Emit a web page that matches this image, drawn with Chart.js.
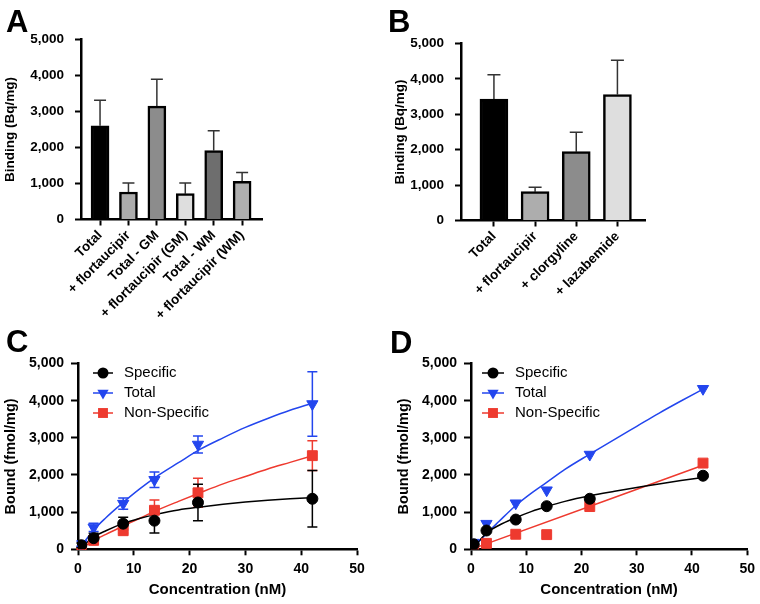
<!DOCTYPE html>
<html lang="en">
<head>
<meta charset="UTF-8">
<title>Flortaucipir binding</title>
<script src="https://cdn.jsdelivr.net/npm/chart.js@4.4.1/dist/chart.umd.min.js"></script>
<style>
  html, body { margin: 0; padding: 0; background: #fff; }
  #figure { position: relative; width: 760px; height: 604px; overflow: hidden; }
  .panel { position: absolute; }
</style>
</head>
<body>
<div id="figure">
  <canvas id="panelA" class="panel" width="380" height="330" style="left:0;top:0"></canvas>
  <canvas id="panelB" class="panel" width="380" height="330" style="left:380px;top:0"></canvas>
  <canvas id="panelC" class="panel" width="380" height="284" style="left:0;top:320px"></canvas>
  <canvas id="panelD" class="panel" width="380" height="284" style="left:380px;top:320px"></canvas>
</div>
<script>
// ---- data ----
const groupsA = ['Total', '+ flortaucipir', 'Total - GM', '+ flortaucipir (GM)', 'Total - WM', '+ flortaucipir (WM)'];
const bindingA = [2605, 765, 3150, 718, 1915, 1058];
const bindingErrA = [710, 250, 745, 295, 550, 250];

const groupsB = ['Total', '+ flortaucipir', '+ clorgyline', '+ lazabemide'];
const bindingB = [3430, 815, 1945, 3560];
const bindingErrB = [685, 125, 545, 965];

const yTicks = [0, 1000, 2000, 3000, 4000, 5000];
const xTicksConc = [0, 10, 20, 30, 40, 50];

// panel C: mean ± error
const concC = [0.6, 2.8, 8.1, 13.7, 21.5, 42];
const specificC = [110, 300, 690, 770, 1260, 1360];
const specificErrC = [60, 130, 170, 330, 490, 760];
const totalC = [150, 590, 1230, 1870, 2820, 3910];
const totalErrC = [70, 110, 150, 210, 230, 870];
const nonSpecificC = [10, 240, 500, 1050, 1520, 2520];
const nonSpecificErrC = [30, 80, 60, 280, 390, 400];
// panel C fitted curves, read at these concentrations
const fitConcC = [0.6, 2.8, 5, 8, 11, 14, 18, 22, 26, 30, 34, 38, 42];
const specificFitC = [60, 330, 500, 690, 830, 940, 1060, 1140, 1210, 1270, 1320, 1360, 1390];
const totalFitC = [90, 520, 850, 1250, 1620, 1950, 2330, 2700, 3000, 3280, 3520, 3740, 3930];
const nonSpecificFitC = [30, 240, 400, 620, 830, 1040, 1290, 1530, 1760, 1960, 2160, 2340, 2520];

// panel D: single experiment
const concD = [0.5, 2.8, 8.1, 13.7, 21.5, 42];
const specificD = [135, 505, 800, 1160, 1360, 1980];
const totalD = [180, 690, 1240, 1590, 2550, 4320];
const nonSpecificD = [0, 160, 405, 395, 1150, 2320];
const fitConcD = [0.5, 2.8, 5, 8.1, 11, 13.7, 17, 21.5, 26, 30, 34, 38, 42];
const specificFitD = [50, 440, 640, 850, 1020, 1150, 1290, 1440, 1560, 1660, 1760, 1850, 1930];
const totalFitD = [60, 420, 740, 1180, 1520, 1800, 2150, 2560, 2960, 3310, 3660, 3990, 4310];
const nonSpecificLineConcD = [0.5, 42];
const nonSpecificFitD = [25, 2260];

// ---- styling ----
const FONT = "'Liberation Sans', Arial, Helvetica, sans-serif";
const BLUE = '#2346ee';
const RED = '#ee3a2f';
Chart.defaults.font.family = FONT;
Chart.defaults.color = '#000';

const barFillsA = ['#000000', '#ababab', '#8c8c8c', '#dedede', '#6e6e6e', '#afafaf'];
const barFillsB = ['#000000', '#adadad', '#8c8c8c', '#dedede'];

const fmt = v => Number(v).toLocaleString('en-US');
const pts = (xs, ys) => xs.map((x, i) => ({ x, y: ys[i] }));

// ---- plugins ----
const panelLetter = {
  id: 'panelLetter',
  afterDraw(chart, args, opts) {
    const ctx = chart.ctx;
    ctx.save();
    ctx.font = `bold 31px ${FONT}`;
    ctx.fillStyle = '#000';
    ctx.textBaseline = 'alphabetic';
    ctx.fillText(opts.text, opts.x, opts.y);
    ctx.restore();
  }
};

const errorBars = {
  id: 'errorBars',
  beforeDatasetsDraw(chart, args, opts) {
    const ctx = chart.ctx;
    const yScale = chart.scales.y;
    chart.data.datasets.forEach((ds, i) => {
      if (!ds.errorValues) return;
      const meta = chart.getDatasetMeta(i);
      ctx.save();
      ctx.strokeStyle = ds.errorColor || ds.borderColor;
      ctx.lineWidth = opts.lineWidth;
      meta.data.forEach((el, j) => {
        const v = ds.data[j].y;
        const e = ds.errorValues[j];
        const top = yScale.getPixelForValue(v + e);
        const bottom = opts.upOnly ? el.y : yScale.getPixelForValue(Math.max(v - e, 0));
        const half = opts.cap / 2;
        ctx.beginPath();
        ctx.moveTo(el.x, bottom);
        ctx.lineTo(el.x, top);
        ctx.moveTo(el.x - half, top);
        ctx.lineTo(el.x + half, top);
        if (!opts.upOnly) {
          ctx.moveTo(el.x - half, bottom);
          ctx.lineTo(el.x + half, bottom);
        }
        ctx.stroke();
      });
      ctx.restore();
    });
  }
};

function drawMarker(ctx, style, x, y, color) {
  ctx.fillStyle = color;
  ctx.beginPath();
  if (style === 'circle') {
    ctx.arc(x, y, 5.5, 0, Math.PI * 2);
  } else if (style === 'triangle') {
    const r = 6.5;
    ctx.moveTo(x, y + r);
    ctx.lineTo(x - r * 0.866, y - r * 0.5);
    ctx.lineTo(x + r * 0.866, y - r * 0.5);
    ctx.closePath();
  } else {
    const s = 7 / Math.SQRT2;
    ctx.rect(x - s, y - s, 2 * s, 2 * s);
  }
  ctx.fill();
}

const seriesLegend = {
  id: 'seriesLegend',
  afterDraw(chart, args, opts) {
    const ctx = chart.ctx;
    ctx.save();
    opts.items.forEach((it, k) => {
      const y = opts.rows[k];
      ctx.strokeStyle = it.color;
      ctx.lineWidth = 1.5;
      ctx.beginPath();
      ctx.moveTo(opts.x0, y);
      ctx.lineTo(opts.x1, y);
      ctx.stroke();
      drawMarker(ctx, it.style, (opts.x0 + opts.x1) / 2, y, it.color);
      ctx.fillStyle = '#000';
      ctx.font = `15px ${FONT}`;
      ctx.textBaseline = 'middle';
      ctx.fillText(it.label, opts.textX, y);
    });
    ctx.restore();
  }
};

// ---- shared axis builders ----
function valueAxis(title, opt) {
  return {
    min: 0, max: 5000,
    afterBuildTicks: s => { s.ticks = yTicks.map(v => ({ value: v })); },
    ticks: { font: { size: opt.font, weight: 'bold' }, padding: opt.pad, callback: fmt },
    grid: { drawOnChartArea: false, tickLength: opt.tick, tickWidth: 2, tickColor: '#000' },
    border: { color: '#000', width: 2.5 },
    title: { display: true, text: title, font: { size: opt.titleSize, weight: 'bold' }, padding: { top: 2, bottom: 0 } },
    afterFit: s => { s.width = opt.width; }
  };
}

function barChart(id, groups, values, errors, fills, geo) {
  new Chart(document.getElementById(id), {
    type: 'bar',
    data: {
      datasets: [{
        data: pts(groups.map((g, i) => i), values),
        errorValues: errors,
        errorColor: '#333',
        backgroundColor: fills,
        borderColor: '#000',
        borderWidth: 2.5,
        barThickness: geo.bar
      }]
    },
    options: {
      responsive: false,
      animation: false,
      layout: { padding: geo.padding },
      plugins: {
        legend: { display: false },
        tooltip: { enabled: false },
        panelLetter: geo.letter,
        errorBars: { lineWidth: 1.5, cap: geo.cap, upOnly: true }
      },
      scales: {
        x: {
          type: 'linear', min: geo.xmin, max: geo.xmax, offset: false,
          afterBuildTicks: s => { s.ticks = groups.map((g, i) => ({ value: i })); },
          ticks: {
            autoSkip: false, minRotation: 45, maxRotation: 45, padding: 2,
            font: { size: 13.5, weight: 'bold' },
            callback: v => groups[v]
          },
          grid: { offset: false, drawOnChartArea: false, tickLength: 6, tickWidth: 2, tickColor: '#000' },
          border: { color: '#000', width: 2.5 },
          afterFit: s => { s.height = geo.xHeight; }
        },
        y: valueAxis('Binding (Bq/mg)', { font: 13.5, pad: 11, tick: 6, titleSize: 13.5, width: geo.yWidth })
      }
    },
    plugins: [errorBars, panelLetter]
  });
}

function saturationChart(id, sets, geo) {
  const datasets = [
    { data: sets.specificFit, borderColor: '#000' },
    { data: sets.totalFit, borderColor: BLUE },
    { data: sets.nonSpecificFit, borderColor: RED }
  ].map(d => Object.assign(d, {
    showLine: true, pointRadius: 0, borderWidth: 1.5, cubicInterpolationMode: 'monotone', order: 10
  }));
  datasets.push(
    { data: sets.nonSpecific, errorValues: sets.nonSpecificErr, borderColor: RED, backgroundColor: RED,
      pointStyle: 'rect', pointRadius: 7, order: 3 },
    { data: sets.total, errorValues: sets.totalErr, borderColor: BLUE, backgroundColor: BLUE,
      pointStyle: 'triangle', pointRotation: 180, pointRadius: 6.5, order: 2 },
    { data: sets.specific, errorValues: sets.specificErr, borderColor: '#000', backgroundColor: '#000',
      pointStyle: 'circle', pointRadius: 5.5, order: 1 }
  );
  new Chart(document.getElementById(id), {
    type: 'scatter',
    data: { datasets },
    options: {
      responsive: false,
      animation: false,
      layout: { padding: geo.padding },
      plugins: {
        legend: { display: false },
        tooltip: { enabled: false },
        panelLetter: geo.letter,
        errorBars: { lineWidth: 1.5, cap: 10, upOnly: false },
        seriesLegend: {
          x0: geo.legend.x0, x1: geo.legend.x1, textX: geo.legend.textX, rows: [53, 73, 93],
          items: [
            { label: 'Specific', color: '#000', style: 'circle' },
            { label: 'Total', color: BLUE, style: 'triangle' },
            { label: 'Non-Specific', color: RED, style: 'rect' }
          ]
        }
      },
      scales: {
        x: {
          type: 'linear', min: 0, max: 50,
          afterBuildTicks: s => { s.ticks = xTicksConc.map(v => ({ value: v })); },
          ticks: { maxRotation: 0, padding: 5, font: { size: 14, weight: 'bold' } },
          grid: { drawOnChartArea: false, tickLength: 6, tickWidth: 2, tickColor: '#000' },
          border: { color: '#000', width: 2.5 },
          title: { display: true, text: 'Concentration (nM)', font: { size: 15, weight: 'bold' }, padding: { top: 0, bottom: 5 } },
          afterFit: s => { s.height = 54.7; }
        },
        y: valueAxis('Bound (fmol/mg)', { font: 14, pad: 7, tick: 7, titleSize: 14.5, width: 78 })
      }
    },
    plugins: [errorBars, seriesLegend, panelLetter]
  });
}

// ---- panels ----
barChart('panelA', groupsA, bindingA, bindingErrA, barFillsA, {
  padding: { left: 0, right: 118, top: 39.5, bottom: 0 },
  yWidth: 81, xHeight: 110.5, xmin: -0.67, xmax: 5.7, bar: 18, cap: 12,
  letter: { text: 'A', x: 6, y: 32 }
});

barChart('panelB', groupsB, bindingB, bindingErrB, barFillsB, {
  padding: { left: 10, right: 115, top: 43.5, bottom: 0 },
  yWidth: 71, xHeight: 109.5, xmin: -0.8, xmax: 3.67, bar: 28, cap: 13,
  letter: { text: 'B', x: 8, y: 32 }
});

saturationChart('panelC', {
  specific: pts(concC, specificC), specificErr: specificErrC,
  total: pts(concC, totalC), totalErr: totalErrC,
  nonSpecific: pts(concC, nonSpecificC), nonSpecificErr: nonSpecificErrC,
  specificFit: pts(fitConcC, specificFitC),
  totalFit: pts(fitConcC, totalFitC),
  nonSpecificFit: pts(fitConcC, nonSpecificFitC)
}, {
  padding: { left: 0, right: 23, top: 43.5, bottom: 0 },
  legend: { x0: 93, x1: 113, textX: 124 },
  letter: { text: 'C', x: 6, y: 32 }
});

saturationChart('panelD', {
  specific: pts(concD, specificD), specificErr: null,
  total: pts(concD, totalD), totalErr: null,
  nonSpecific: pts(concD, nonSpecificD), nonSpecificErr: null,
  specificFit: pts(fitConcD, specificFitD),
  totalFit: pts(fitConcD, totalFitD),
  nonSpecificFit: pts(nonSpecificLineConcD, nonSpecificFitD)
}, {
  padding: { left: 13, right: 12, top: 43.5, bottom: 0 },
  legend: { x0: 102, x1: 124, textX: 135 },
  letter: { text: 'D', x: 10, y: 33 }
});
</script>
</body>
</html>
